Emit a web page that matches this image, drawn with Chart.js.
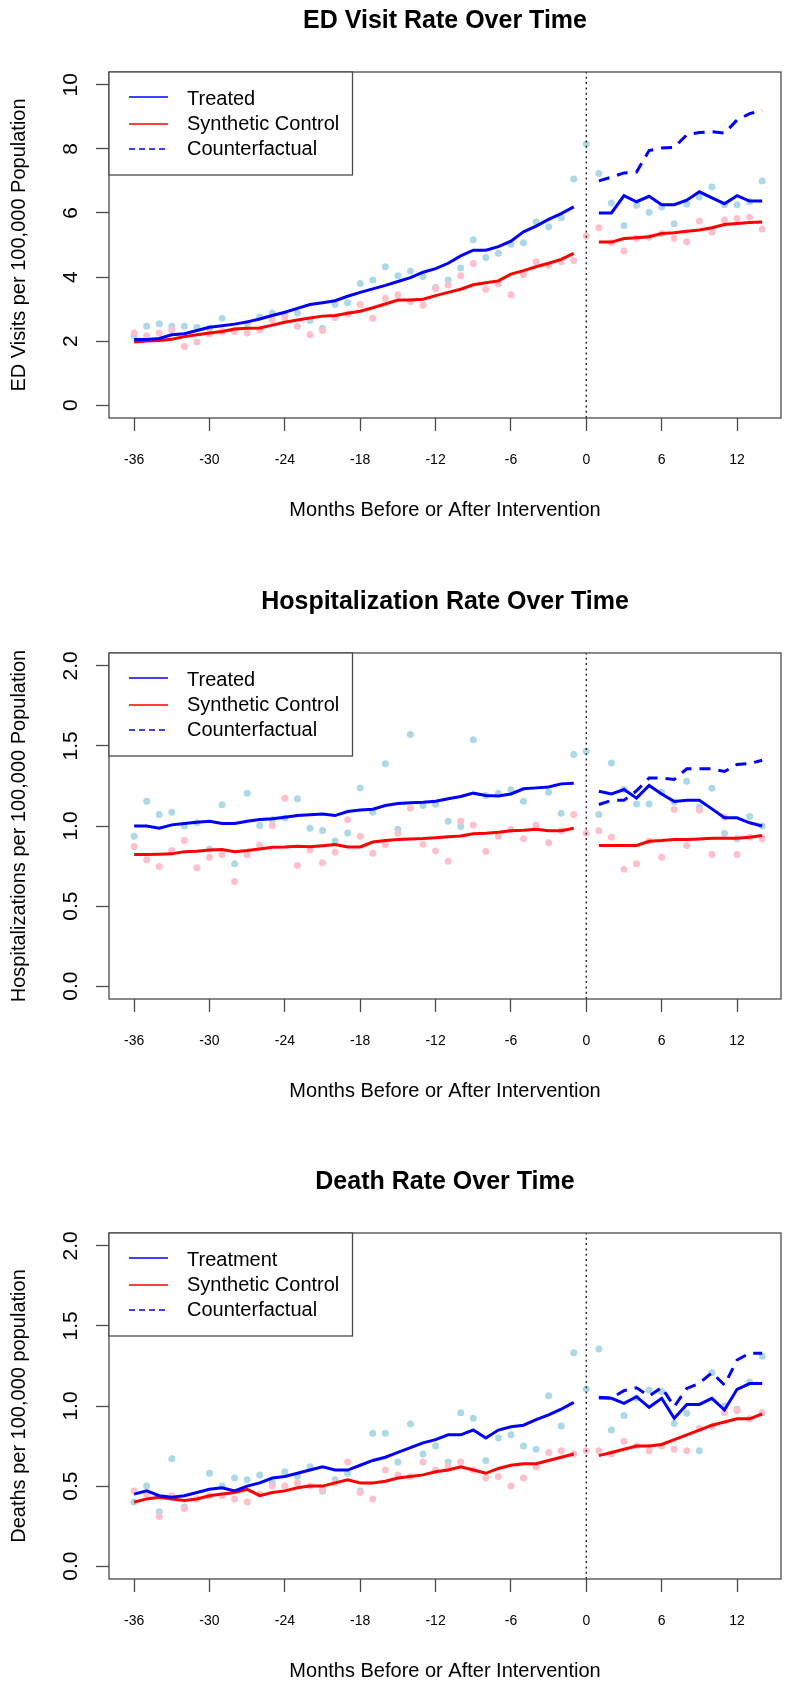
<!DOCTYPE html>
<html>
<head>
<meta charset="utf-8">
<script src="https://cdn.jsdelivr.net/npm/chart.js@4.4.1/dist/chart.umd.min.js"></script>
<style>
  html, body { margin: 0; padding: 0; background: #fff; }
  #page { position: relative; width: 785px; height: 1682px; overflow: hidden; }
  .panel { position: absolute; left: 0; width: 785px; height: 581px; }
</style>
</head>
<body>
<div id="page">
  <div class="panel" style="top:0px"><canvas id="ed"></canvas></div>
  <div class="panel" style="top:580.5px"><canvas id="hosp"></canvas></div>
  <div class="panel" style="top:1161px"><canvas id="death"></canvas></div>
</div>
<script>
// months relative to the intervention
const months = [-36,-35,-34,-33,-32,-31,-30,-29,-28,-27,-26,-25,-24,-23,-22,-21,-20,-19,-18,-17,-16,-15,-14,-13,-12,-11,-10,-9,-8,-7,-6,-5,-4,-3,-2,-1,0,1,2,3,4,5,6,7,8,9,10,11,12,13,14];
const xTicks = [-36,-30,-24,-18,-12,-6,0,6,12];

// ED visits
const edTreatedObs = [2.17,2.46,2.54,2.46,2.46,2.43,2.4,2.71,2.33,2.55,2.75,2.88,2.8,2.88,2.64,2.4,3.14,3.2,3.8,3.91,4.32,4.04,4.19,4.02,3.67,3.91,4.28,5.16,4.61,4.74,5.02,5.07,5.72,5.57,5.85,7.06,8.15,7.23,6.31,5.61,6.24,6.02,6.19,5.66,6.28,6.5,6.81,6.26,6.26,6.35,7.0];
const edControlObs = [2.25,2.17,2.25,2.35,1.83,1.97,2.23,2.3,2.3,2.25,2.35,2.66,2.72,2.46,2.2,2.33,2.74,2.85,3.14,2.71,3.34,3.45,3.24,3.12,3.64,3.75,4.04,4.42,3.62,3.78,3.45,4.07,4.48,4.37,4.48,4.52,5.28,5.54,5.07,4.81,5.21,5.24,5.36,5.21,5.1,5.75,5.4,5.78,5.83,5.87,5.5];
const edTreated = [2.05,2.05,2.08,2.2,2.23,2.33,2.43,2.48,2.53,2.6,2.69,2.8,2.9,3.02,3.14,3.2,3.26,3.4,3.52,3.63,3.74,3.86,3.98,4.15,4.26,4.43,4.66,4.84,4.84,4.95,5.12,5.41,5.59,5.8,5.98,6.19,null,6.0,6.0,6.54,6.35,6.52,6.26,6.26,6.4,6.66,6.47,6.29,6.54,6.37,6.37];
const edSynthetic = [1.97,2.0,2.02,2.06,2.14,2.2,2.25,2.3,2.38,2.4,2.41,2.5,2.59,2.66,2.72,2.78,2.8,2.87,2.93,3.04,3.16,3.28,3.28,3.31,3.42,3.52,3.62,3.76,3.82,3.88,4.09,4.2,4.32,4.43,4.55,4.74,null,5.09,5.09,5.2,5.23,5.26,5.36,5.38,5.43,5.47,5.54,5.64,5.67,5.7,5.72];
const edCounterfactual = [null,null,null,null,null,null,null,null,null,null,null,null,null,null,null,null,null,null,null,null,null,null,null,null,null,null,null,null,null,null,null,null,null,null,null,null,null,7.0,7.12,7.25,7.28,7.95,8.03,8.05,8.44,8.51,8.54,8.49,8.9,9.1,9.2];
const edTicks = [0,2,4,6,8,10];

// hospitalizations
const hospTreatedObs = [0.936,1.155,1.072,1.086,1.0,1.02,0.855,1.132,0.764,1.205,1.003,1.04,1.05,1.17,0.986,0.972,0.907,0.957,1.238,1.086,1.388,0.979,1.571,1.128,1.136,1.029,0.997,1.538,1.19,1.205,1.226,1.155,1.0,1.21,1.08,1.446,1.467,1.072,1.394,1.23,1.138,1.138,1.21,1.15,1.28,1.117,1.236,0.955,0.92,1.06,1.0];
const hospControlObs = [0.872,0.789,0.747,0.847,0.91,0.739,0.805,0.82,0.654,0.82,0.878,1.003,1.174,0.753,0.85,0.77,0.836,1.039,0.936,0.83,0.884,0.955,1.111,0.886,0.844,0.78,1.03,1.007,0.841,0.936,0.98,0.92,1.007,0.895,0.97,1.072,0.955,0.97,0.93,0.73,0.764,0.907,0.805,1.103,0.878,1.1,0.822,1.055,0.822,0.93,0.92];
const hospTreated = [1.0,1.0,0.986,1.007,1.015,1.024,1.03,1.015,1.015,1.03,1.04,1.045,1.055,1.065,1.07,1.075,1.065,1.09,1.1,1.105,1.128,1.14,1.145,1.148,1.155,1.17,1.184,1.205,1.19,1.187,1.2,1.232,1.238,1.243,1.263,1.267,null,1.217,1.2,1.228,1.174,1.253,1.2,1.153,1.16,1.16,1.107,1.051,1.051,1.02,1.0];
const hospSynthetic = [0.822,0.822,0.824,0.826,0.84,0.843,0.85,0.853,0.84,0.847,0.857,0.867,0.869,0.873,0.87,0.877,0.884,0.869,0.869,0.9,0.909,0.915,0.919,0.922,0.927,0.933,0.938,0.951,0.955,0.961,0.97,0.974,0.98,0.97,0.97,0.986,null,0.878,0.878,0.878,0.878,0.905,0.909,0.915,0.915,0.919,0.924,0.924,0.924,0.93,0.94];
const hospCounterfactual = [null,null,null,null,null,null,null,null,null,null,null,null,null,null,null,null,null,null,null,null,null,null,null,null,null,null,null,null,null,null,null,null,null,null,null,null,null,1.134,1.16,1.16,1.22,1.3,1.3,1.29,1.357,1.357,1.357,1.34,1.384,1.39,1.41];
const rateTicks = [0,0.5,1,1.5,2];

// deaths
const deathTreatedObs = [0.4,0.5,0.34,0.67,0.37,0.42,0.58,0.5,0.55,0.54,0.57,0.52,0.59,0.56,0.62,0.47,0.54,0.58,0.47,0.83,0.83,0.65,0.888,0.7,0.75,0.65,0.958,0.923,0.66,0.8,0.82,0.75,0.73,1.064,0.875,1.333,1.106,1.356,0.85,0.94,1.05,1.1,1.09,0.89,0.954,0.72,1.208,1.0,0.98,1.15,1.31];
const deathControlObs = [0.47,0.45,0.31,0.44,0.36,0.42,0.44,0.44,0.42,0.4,0.45,0.5,0.5,0.52,0.5,0.48,0.52,0.65,0.46,0.42,0.6,0.57,0.56,0.65,0.6,0.62,0.65,0.6,0.55,0.56,0.5,0.55,0.62,0.71,0.72,0.7,0.72,0.72,0.7,0.78,0.75,0.72,0.75,0.73,0.72,0.86,0.87,0.96,0.97,0.92,0.96];
const deathTreated = [0.45,0.47,0.44,0.43,0.44,0.46,0.48,0.49,0.47,0.5,0.52,0.55,0.56,0.58,0.6,0.62,0.6,0.6,0.63,0.66,0.68,0.71,0.74,0.77,0.79,0.82,0.82,0.85,0.8,0.85,0.87,0.88,0.915,0.944,0.98,1.023,null,1.054,1.048,1.017,1.058,0.992,1.048,0.923,1.01,1.01,1.048,0.975,1.104,1.14,1.14];
const deathSynthetic = [0.4,0.42,0.43,0.42,0.41,0.42,0.44,0.45,0.46,0.48,0.44,0.46,0.47,0.49,0.5,0.5,0.52,0.54,0.52,0.52,0.53,0.55,0.56,0.57,0.59,0.6,0.62,0.6,0.58,0.61,0.63,0.64,0.64,0.66,0.68,0.7,null,0.69,0.71,0.73,0.75,0.75,0.76,0.79,0.82,0.85,0.88,0.9,0.92,0.92,0.95];
const deathCounterfactual = [null,null,null,null,null,null,null,null,null,null,null,null,null,null,null,null,null,null,null,null,null,null,null,null,null,null,null,null,null,null,null,null,null,null,null,null,null,1.05,1.05,1.096,1.114,1.062,1.116,0.996,1.11,1.142,1.208,1.131,1.287,1.33,1.33];

const legendTreated = ['Treated', 'Synthetic Control', 'Counterfactual'];
const legendTreatment = ['Treatment', 'Synthetic Control', 'Counterfactual'];

const FONT = '"Liberation Sans", Arial, Helvetica, sans-serif';
const AXIS_GREY = '#4a4a4a';

function pts(vals) {
  return months.map((m, i) => ({ x: m, y: vals[i] }));
}

// R-style box around the plot region plus the boxed legend in its top-left corner
const frameAndLegend = {
  id: 'frameAndLegend',
  afterDraw(chart, args, opts) {
    const { ctx, chartArea: a } = chart;
    ctx.save();
    ctx.strokeStyle = AXIS_GREY;
    ctx.lineWidth = 1.3;
    ctx.strokeRect(a.left, a.top, a.right - a.left, a.bottom - a.top);

    ctx.fillStyle = '#fff';
    ctx.fillRect(a.left, a.top, 243.5, 103);
    ctx.strokeRect(a.left, a.top, 243.5, 103);

    const lineY = [25, 52, 77];
    const textY = [27, 52, 77.5];
    const colors = ['#0000ff', '#ff0000', '#0000ff'];
    const dashes = [[], [], [6, 4]];
    ctx.font = '20px ' + FONT;
    ctx.textBaseline = 'middle';
    ctx.textAlign = 'left';
    opts.labels.forEach((txt, i) => {
      ctx.beginPath();
      ctx.setLineDash(dashes[i]);
      ctx.strokeStyle = colors[i];
      ctx.lineWidth = 1.5;
      ctx.moveTo(a.left + 20, a.top + lineY[i]);
      ctx.lineTo(a.left + 59, a.top + lineY[i]);
      ctx.stroke();
      ctx.fillStyle = '#000';
      ctx.fillText(txt, a.left + 78, a.top + textY[i]);
    });
    ctx.restore();
  }
};

function makePanel(id, title, yTitle, yMin, yMax, yTicks, yDigits, yPad, legend, s) {
  new Chart(document.getElementById(id), {
    type: 'scatter',
    data: {
      datasets: [
        { data: pts(s.tObs), backgroundColor: '#add8e6', borderWidth: 0, pointRadius: 3.5, order: 6 },
        { data: pts(s.cObs), backgroundColor: '#ffc0cb', borderWidth: 0, pointRadius: 3.5, order: 5 },
        { data: [{ x: 0, y: yMin }, { x: 0, y: yMax }], showLine: true, borderColor: '#222',
          borderWidth: 1.4, borderDash: [2, 3.3], pointRadius: 0, order: 4 },
        { data: pts(s.syn), showLine: true, borderColor: '#ff0000', borderWidth: 3, pointRadius: 0,
          spanGaps: false, tension: 0, order: 3 },
        { data: pts(s.cf), showLine: true, borderColor: '#0000ff', borderWidth: 3, borderDash: [11, 8],
          pointRadius: 0, spanGaps: false, tension: 0, order: 2 },
        { data: pts(s.tr), showLine: true, borderColor: '#0000ff', borderWidth: 3, pointRadius: 0,
          spanGaps: false, tension: 0, order: 1 }
      ]
    },
    options: {
      responsive: true,
      maintainAspectRatio: false,
      animation: false,
      events: [],
      layout: { padding: 0 },
      plugins: {
        legend: { display: false },
        tooltip: { enabled: false },
        title: {
          display: true, text: title, fullSize: false, color: '#000',
          font: { family: FONT, size: 25, weight: 'bold' },
          padding: { top: 6, bottom: 36 }
        },
        frameAndLegend: { labels: legend }
      },
      scales: {
        x: {
          type: 'linear', min: -38, max: 15.5,
          afterBuildTicks: sc => { sc.ticks = xTicks.map(v => ({ value: v })); },
          afterFit: sc => { sc.height = 163; },
          grid: { display: true, drawOnChartArea: false, drawTicks: true, tickLength: 13,
                  tickColor: AXIS_GREY, tickWidth: 1.3 },
          border: { display: false },
          ticks: { autoSkip: false, maxRotation: 0, padding: 21, color: '#000',
                   font: { family: FONT, size: 14 } },
          title: { display: true, text: 'Months Before or After Intervention', color: '#000',
                   font: { family: FONT, size: 20 }, padding: { top: 0, bottom: 59 } }
        },
        y: {
          type: 'linear', min: yMin, max: yMax,
          afterBuildTicks: sc => { sc.ticks = yTicks.map(v => ({ value: v })); },
          afterFit: sc => { sc.width = 109; },
          grid: { display: true, drawOnChartArea: false, drawTicks: true, tickLength: 13,
                  tickColor: AXIS_GREY, tickWidth: 1.3 },
          border: { display: false },
          ticks: { minRotation: 90, maxRotation: 90, crossAlign: 'center', padding: yPad, color: '#000',
                   font: { family: FONT, size: 21 },
                   callback: v => v.toFixed(yDigits) },
          title: { display: true, text: yTitle, color: '#000',
                   font: { family: FONT, size: 20 }, padding: { top: 7.5, bottom: 0 } }
        }
      }
    },
    plugins: [frameAndLegend]
  });
}

makePanel('ed', 'ED Visit Rate Over Time', 'ED Visits per 100,000 Population',
  -0.4, 10.4, edTicks, 0, 13.3, legendTreated,
  { tObs: edTreatedObs, cObs: edControlObs, tr: edTreated, syn: edSynthetic, cf: edCounterfactual });

makePanel('hosp', 'Hospitalization Rate Over Time', 'Hospitalizations per 100,000 Population',
  -0.08, 2.08, rateTicks, 1, 10.4, legendTreated,
  { tObs: hospTreatedObs, cObs: hospControlObs, tr: hospTreated, syn: hospSynthetic, cf: hospCounterfactual });

makePanel('death', 'Death Rate Over Time', 'Deaths per 100,000 population',
  -0.08, 2.08, rateTicks, 1, 10.4, legendTreatment,
  { tObs: deathTreatedObs, cObs: deathControlObs, tr: deathTreated, syn: deathSynthetic, cf: deathCounterfactual });
</script>
</body>
</html>
